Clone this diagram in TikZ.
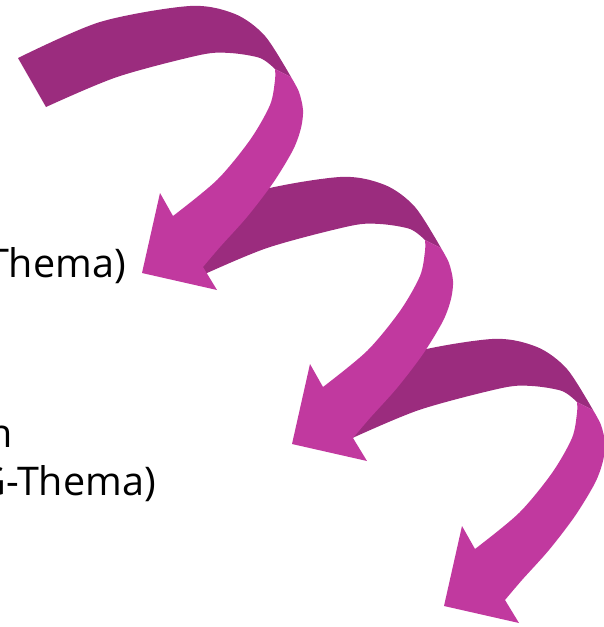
\documentclass[tikz,border=0pt]{standalone}
\usepackage{fontspec}
\setmainfont{Open Sans}
\definecolor{bandback}{HTML}{9B2C7E}
\definecolor{bandfront}{HTML}{C1399F}

\begin{document}
\begin{tikzpicture}[x=1pt, y=-1pt,
    back/.style={fill=bandback},
    front/.style={fill=bandfront},
    label/.style={font=\fontsize{39.5}{47}\selectfont, inner sep=0pt}]
  \useasboundingbox (0,0) rectangle (604,627);
  \clip (0,0) rectangle (604,627);

  \node[label, anchor=base east] (thema) at (126,277) {Thema)};
  \node[label, anchor=base east] (wordend) at (13,447) {n};
  \node[label, anchor=base east] (gthema) at (156,495) {G-Thema)};

  % three ribbon arrows, the upper one lies on top
  \foreach \dx/\dy in {302/333, 150/171, 0/0} {
    \begin{scope}[shift={(\dx,\dy)}]
      \fill[back] plot[smooth] coordinates {(18,58) (100,22) (190,6) (235,14) (265,36) (291,77)}
        -- plot[smooth] coordinates {(275,69) (260,58) (230,53) (200,55) (117,77) (46,107)} -- cycle;
      \fill[front] plot[smooth] coordinates {(291,77) (299,92) (303,110) (301,128) (293,150) (273,183) (247,217) (220,247) (203,267)}
        -- (217,290) -- (142,273) -- (160,193)
        -- plot[smooth] coordinates {(173,216) (217,180) (250,140) (270,105) (275,80) (275,69)} -- cycle;
    \end{scope}
  }
\end{tikzpicture}
\end{document}
